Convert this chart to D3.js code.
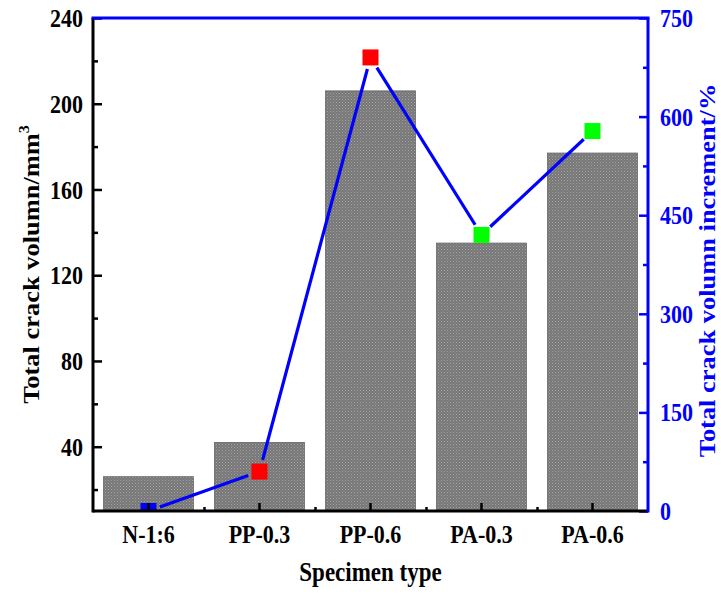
<!DOCTYPE html>
<html>
<head>
<meta charset="utf-8">
<script src="https://cdn.jsdelivr.net/npm/d3@7"></script>
<style>
  html, body { margin: 0; padding: 0; background: #fff; }
  svg { display: block; font-family: "Liberation Serif", "Times New Roman", serif; font-weight: bold; }
</style>
</head>
<body>
<div id="chart"></div>
<script>
const categories = ["N-1:6", "PP-0.3", "PP-0.6", "PA-0.3", "PA-0.6"];
const crackVolume = [26, 42, 206, 135, 177];
const volumeIncrement = [0, 60, 690, 420, 578];
const leftTicks = [40, 80, 120, 160, 200, 240];
const leftMinorTicks = [20, 60, 100, 140, 180, 220];
const rightTicks = [0, 150, 300, 450, 600, 750];
const rightMinorTicks = [75, 225, 375, 525, 675];

const width = 721, height = 594;
const margin = { top: 18, right: 73, bottom: 83, left: 93 };
const innerWidth = width - margin.left - margin.right;
const bottomY = height - margin.bottom;
const blue = "#0000ff";
const stretch = 1.15; // the reference lettering is a bit taller than wide

const svg = d3.select("#chart").append("svg").attr("width", width).attr("height", height);

const x = d3.scaleBand().domain(categories).range([margin.left, width - margin.right]).paddingInner(0.19).paddingOuter(0.095);
const yLeft = d3.scaleLinear().domain([10, 240]).range([bottomY, margin.top]);
const yRight = d3.scaleLinear().domain([0, 750]).range([bottomY, margin.top]);

const defs = svg.append("defs");
const pat = defs.append("pattern").attr("id", "dots").attr("width", 3).attr("height", 3).attr("patternUnits", "userSpaceOnUse");
pat.append("rect").attr("width", 3).attr("height", 3).attr("fill", "#777");
pat.append("rect").attr("x", 0).attr("y", 0).attr("width", 1).attr("height", 1).attr("fill", "#a4a4a4");
pat.append("rect").attr("x", 1.5).attr("y", 1.5).attr("width", 1).attr("height", 1).attr("fill", "#969696");
defs.append("clipPath").attr("id", "plotClip").append("rect")
  .attr("x", margin.left).attr("y", margin.top - 20).attr("width", innerWidth).attr("height", bottomY - margin.top + 20);

// bars
svg.append("g")
  .selectAll("rect")
  .data(categories)
  .enter()
  .append("rect")
  .attr("x", (c) => x(c))
  .attr("y", (c, i) => yLeft(crackVolume[i]))
  .attr("width", x.bandwidth())
  .attr("height", (c, i) => bottomY - yLeft(crackVolume[i]))
  .attr("fill", "url(#dots)")
  .attr("stroke", "#666")
  .attr("stroke-width", 0.8);

// line with gaps around the markers
const pts = categories.map((c, i) => [x(c) + x.bandwidth() / 2, yRight(volumeIncrement[i])]);
const gap = 12;
const lineG = svg.append("g").attr("clip-path", "url(#plotClip)");
d3.pairs(pts).forEach(([a, b]) => {
  const dx = b[0] - a[0], dy = b[1] - a[1];
  const len = Math.hypot(dx, dy);
  const ux = dx / len, uy = dy / len;
  lineG.append("line")
    .attr("x1", a[0] + ux * gap).attr("y1", a[1] + uy * gap)
    .attr("x2", b[0] - ux * gap).attr("y2", b[1] - uy * gap)
    .attr("stroke", blue).attr("stroke-width", 3.2);
});

const markerColor = (c) => c.startsWith("N") ? blue : c.startsWith("PP") ? "#ff0000" : "#00ff00";
const ms = 16;
lineG.selectAll("rect.marker")
  .data(categories)
  .enter()
  .append("rect")
  .attr("class", "marker")
  .attr("x", (c, i) => pts[i][0] - ms / 2)
  .attr("y", (c, i) => pts[i][1] - ms / 2)
  .attr("width", ms)
  .attr("height", ms)
  .attr("fill", markerColor);

// axes
const styleAxis = (g, color) => {
  g.select(".domain").remove();
  g.attr("font-family", null).attr("font-size", null);
  g.selectAll(".tick line").attr("stroke", color).attr("stroke-width", 2.5);
  g.selectAll(".tick text").attr("fill", color).attr("font-size", 22);
};
// stretch tick labels vertically about their own middle
const stretchY = (g) => {
  g.selectAll(".tick text").attr("dy", null).attr("dominant-baseline", "central")
    .attr("transform", `scale(1,${stretch})`);
};

svg.append("g").attr("transform", `translate(${margin.left},0)`)
  .call(d3.axisLeft(yLeft).tickValues(leftMinorTicks).tickSize(-5).tickFormat(""))
  .call((g) => styleAxis(g, "#000"));
svg.append("g").attr("transform", `translate(${margin.left},0)`)
  .call(d3.axisLeft(yLeft).tickValues(leftTicks).tickSize(-9).tickPadding(10))
  .call((g) => styleAxis(g, "#000"))
  .call(stretchY);

svg.append("g").attr("transform", `translate(${width - margin.right},0)`)
  .call(d3.axisRight(yRight).tickValues(rightMinorTicks).tickSize(-5).tickFormat(""))
  .call((g) => styleAxis(g, blue));
svg.append("g").attr("transform", `translate(${width - margin.right},0)`)
  .call(d3.axisRight(yRight).tickValues(rightTicks).tickSize(-9).tickPadding(12))
  .call((g) => styleAxis(g, blue))
  .call(stretchY);

const bounds = categories.slice(1).map((c) => x(c) - x.step() * x.paddingInner() / 2);
const xMinor = d3.scaleLinear().domain([0, width]).range([0, width]);
svg.append("g").attr("transform", `translate(0,${bottomY})`)
  .call(d3.axisBottom(xMinor).tickValues(bounds).tickSize(-4).tickFormat(""))
  .call((g) => styleAxis(g, "#000"));
svg.append("g").attr("transform", `translate(0,${bottomY})`)
  .call(d3.axisBottom(x).tickSize(-8))
  .call((g) => styleAxis(g, "#000"))
  .call((g) => g.selectAll(".tick text").attr("dy", null).attr("y", 32 / stretch).attr("transform", `scale(1,${stretch})`));

// frame
svg.append("line").attr("x1", margin.left).attr("x2", width - margin.right).attr("y1", bottomY).attr("y2", bottomY).attr("stroke", "#000").attr("stroke-width", 3);
svg.append("line").attr("x1", margin.left).attr("x2", margin.left).attr("y1", margin.top).attr("y2", bottomY + 1.5).attr("stroke", "#000").attr("stroke-width", 3);
svg.append("line").attr("x1", margin.left - 1.5).attr("x2", width - margin.right + 1.5).attr("y1", margin.top).attr("y2", margin.top).attr("stroke", blue).attr("stroke-width", 3);
svg.append("line").attr("x1", width - margin.right).attr("x2", width - margin.right).attr("y1", margin.top).attr("y2", bottomY + 1.5).attr("stroke", blue).attr("stroke-width", 3);

// titles
svg.append("text")
  .attr("transform", `translate(${margin.left + innerWidth / 2},581) scale(1,${stretch})`)
  .attr("text-anchor", "middle")
  .attr("font-size", 23)
  .text("Specimen type");

const midY = (margin.top + bottomY) / 2;
const leftTitle = svg.append("text")
  .attr("transform", `translate(39,${midY}) scale(1,${stretch}) rotate(-90)`)
  .attr("text-anchor", "middle")
  .attr("font-size", 23);
leftTitle.append("tspan").text("Total crack volumn/mm");
leftTitle.append("tspan").attr("font-size", 14).attr("dy", -10).text("3");

svg.append("text")
  .attr("transform", `translate(715,${midY + 6}) scale(1,${stretch}) rotate(-90)`)
  .attr("text-anchor", "middle")
  .attr("font-size", 23)
  .attr("fill", blue)
  .text("Total crack volumn increment/%");
</script>
</body>
</html>
